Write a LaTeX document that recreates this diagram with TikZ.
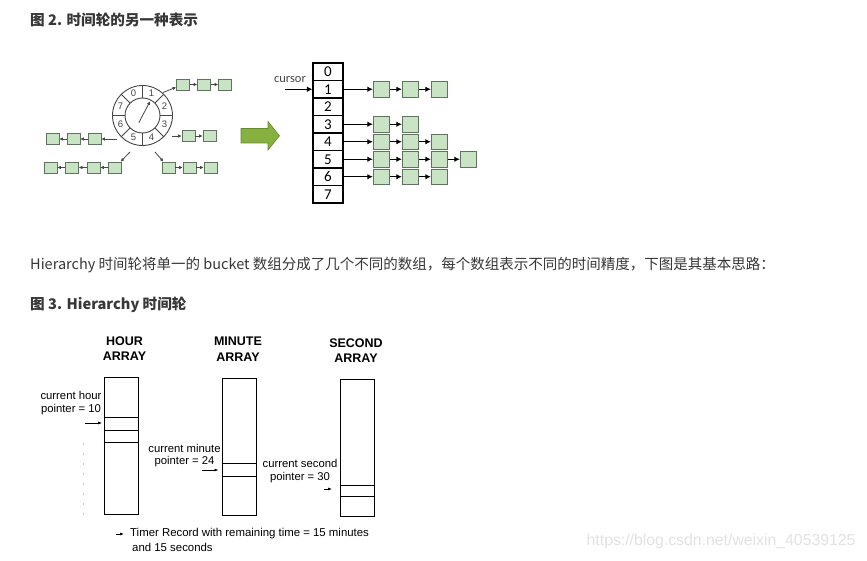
\documentclass[tikz,border=0pt]{standalone}
\usepackage{fontspec}
\setmainfont{Liberation Sans}
\newfontfamily\cjk{Noto Sans CJK SC}
\newfontfamily\carlito{Carlito}
\usetikzlibrary{arrows.meta,positioning,calc}
\definecolor{webgray}    {RGB}{ 55,  55,  55}
\definecolor{wheelgray}  {RGB}{ 70,  70,  70}
\definecolor{boxgreen}   {RGB}{200, 228, 196}
\definecolor{boxedge}    {RGB}{ 95, 115,  95}
\definecolor{arrowgreen} {RGB}{134, 176,  64}
\definecolor{arrowedge}  {RGB}{104, 138,  46}
\definecolor{markgray}   {RGB}{226, 226, 226}

\begin{document}
\begin{tikzpicture}[x=1pt,y=-1pt,
  every node/.style={inner sep=0pt},
  webtxt/.style={anchor=west,text=webgray,font=\cjk\fontsize{14.5}{18}\selectfont},
  webhdr/.style={anchor=west,text=webgray,font=\cjk\bfseries\fontsize{14.6}{18}\selectfont},
  wheel/.style={draw=wheelgray,line width=0.9pt},
  wnum/.style={text=wheelgray,font=\fontsize{9.5}{11}\selectfont},
  wbox/.style={draw=boxedge,fill=boxgreen,line width=0.7pt,
               minimum width=13pt,minimum height=11pt},
  wlink/.style={draw=wheelgray,line width=0.8pt,-{Latex[length=3.5pt,width=3.5pt]}},
  cell/.style={draw=black,line width=1.1pt,minimum width=30pt,minimum height=17.5pt,
               font=\carlito\fontsize{15}{17}\selectfont},
  abox/.style={draw=boxedge,fill=boxgreen,line width=0.8pt,
               minimum width=16.5pt,minimum height=15.5pt},
  alink/.style={draw=black,line width=1.4pt,-{Latex[length=5.5pt,width=5.5pt]}},
  ttl/.style={align=center,font=\bfseries\fontsize{12.5}{15.5}\selectfont},
  tarray/.style={draw=black,line width=0.9pt,minimum width=34pt},
  slot/.style={draw=black,line width=0.6pt},
  plbl/.style={align=center,font=\fontsize{11.3}{12.6}\selectfont},
  ptr/.style={draw=black,line width=0.6pt,-{Latex[length=4pt,width=3pt]}},
]

%% Page and margins
\useasboundingbox (0,0) rectangle (867,561);
\fill[white] (0,0) rectangle (867,561);

%% Web text
\node[webhdr] (fig2) at (30,20) {图 2. 时间轮的另一种表示};
\node[webtxt] (para) at (30,265)
  {Hierarchy 时间轮将单一的 bucket 数组分成了几个不同的数组，每个数组表示不同的时间精度，下图是其基本思路：};
\node[webhdr] (fig3) at (30,305) {图 3. Hierarchy 时间轮};

%% Time wheel
\coordinate (W) at (142.5,115.5);
\draw[wheel] (W) circle[radius=30pt];
\draw[wheel] (W) circle[radius=17.5pt];
\foreach \a in {0,45,...,315}
  \draw[wheel] ($(W)+(\a:17.5pt)$) -- ($(W)+(\a:30pt)$);
\foreach \k in {0,...,7}
  \node[wnum] (n\k) at ($(W)+({112.5-45*\k}:23.8pt)$) {\k};
\coordinate (hand0) at ($(W)+(243:8pt)$);
\coordinate (hand1) at ($(W)+(62:16pt)$);
\draw[wlink] (hand0) -- (hand1);

%% Wheel buckets
\coordinate (w1) at (163,92.5);
\coordinate (w3) at (172,136);
\coordinate (w4) at (155,152);
\coordinate (w5) at (130,152);
\coordinate (w6) at (117,139);

\node[wbox] (l11) at (183,84.5) {};
\node[wbox] (l12) at (204,84.5) {};
\node[wbox] (l13) at (225,84.5) {};
\node[wbox] (l31) at (188.5,136) {};
\node[wbox] (l32) at (209.5,136) {};
\node[wbox] (l41) at (168.5,167.5) {};
\node[wbox] (l42) at (189.5,167.5) {};
\node[wbox] (l43) at (210.5,167.5) {};
\node[wbox] (l51) at (115,167.5) {};
\node[wbox] (l52) at (93.5,167.5) {};
\node[wbox] (l53) at (72,167.5) {};
\node[wbox] (l54) at (50.5,167.5) {};
\node[wbox] (l61) at (94.5,139) {};
\node[wbox] (l62) at (73.5,139) {};
\node[wbox] (l63) at (52.5,139) {};

\draw[wlink] (w1) -- (l11);
\draw[wlink] (l11) -- (l12);
\draw[wlink] (l12) -- (l13);
\draw[wlink] (w3) -- (l31);
\draw[wlink] (l31) -- (l32);
\draw[wlink] (w4) -- (l41);
\draw[wlink] (l41) -- (l42);
\draw[wlink] (l42) -- (l43);
\draw[wlink] (w5) -- (l51);
\draw[wlink] (l51) -- (l52);
\draw[wlink] (l52) -- (l53);
\draw[wlink] (l53) -- (l54);
\draw[wlink] (w6) -- (l61);
\draw[wlink] (l61) -- (l62);
\draw[wlink] (l62) -- (l63);

%% Green block arrow
\filldraw[fill=arrowgreen,draw=arrowedge,line width=0.6pt]
  (241,128.5) -- (268,128.5) -- (268,121.5) -- (279.5,135.8)
  -- (268,150) -- (268,143) -- (241,143) -- cycle;

%% Bucket array
\node[cell] (c0) at (328,71.75) {0};
\node[cell] (c1) at (328,89.25) {1};
\node[cell] (c2) at (328,106.75) {2};
\node[cell] (c3) at (328,124.25) {3};
\node[cell] (c4) at (328,141.75) {4};
\node[cell] (c5) at (328,159.25) {5};
\node[cell] (c6) at (328,176.75) {6};
\node[cell] (c7) at (328,194.25) {7};

\coordinate (cur) at (285,89.25);
\node[text=wheelgray,font=\carlito\fontsize{12.5}{14}\selectfont] (curtxt) at (290,79.5) {cursor};
\draw[alink] (cur) -- (c1);

\node[abox] (a11) at (381.5,89.25) {};
\node[abox] (a12) at (410.5,89.25) {};
\node[abox] (a13) at (439.5,89.25) {};
\node[abox] (a31) at (381.5,124.25) {};
\node[abox] (a32) at (410.5,124.25) {};
\node[abox] (a41) at (381.5,141.75) {};
\node[abox] (a42) at (410.5,141.75) {};
\node[abox] (a43) at (439.5,141.75) {};
\node[abox] (a51) at (381.5,159.25) {};
\node[abox] (a52) at (410.5,159.25) {};
\node[abox] (a53) at (439.5,159.25) {};
\node[abox] (a54) at (468.5,159.25) {};
\node[abox] (a61) at (381.5,176.75) {};
\node[abox] (a62) at (410.5,176.75) {};
\node[abox] (a63) at (439.5,176.75) {};

\draw[alink] (c1) -- (a11);
\draw[alink] (a11) -- (a12);
\draw[alink] (a12) -- (a13);
\draw[alink] (c3) -- (a31);
\draw[alink] (a31) -- (a32);
\draw[alink] (c4) -- (a41);
\draw[alink] (a41) -- (a42);
\draw[alink] (a42) -- (a43);
\draw[alink] (c5) -- (a51);
\draw[alink] (a51) -- (a52);
\draw[alink] (a52) -- (a53);
\draw[alink] (a53) -- (a54);
\draw[alink] (c6) -- (a61);
\draw[alink] (a61) -- (a62);
\draw[alink] (a62) -- (a63);

%% Hierarchy arrays
\node[ttl] (hourT) at (124.5,348.5) {HOUR\\ARRAY};
\node[ttl] (minT)  at (238,349)   {MINUTE\\ARRAY};
\node[ttl] (secT)  at (356,350.5) {SECOND\\ARRAY};

\node[tarray,minimum height=137pt]   (hourA) at (121,445.5) {};
\node[tarray,minimum height=136.7pt] (minA)  at (239.7,446.7) {};
\node[tarray,minimum height=136.7pt] (secA)  at (357.2,447.7) {};

\draw[slot,line width=1pt] (hourA.west |- 0,417) -- (hourA.east |- 0,417);
\draw[slot] (hourA.west |- 0,430) -- (hourA.east |- 0,430);
\draw[slot] (hourA.west |- 0,442) -- (hourA.east |- 0,442);
\draw[slot,line width=0.9pt] (minA.west |- 0,463.3) -- (minA.east |- 0,463.3);
\draw[slot] (minA.west |- 0,476.7) -- (minA.east |- 0,476.7);
\draw[slot] (secA.west |- 0,485) -- (secA.east |- 0,485);
\draw[slot] (secA.west |- 0,496) -- (secA.east |- 0,496);

%% Pointers
\node[plbl] (hourL) at (71,403)    {current hour\\pointer = 10};
\node[plbl] (minL)  at (184.5,455.5) {current minute\\pointer = 24};
\node[plbl] (secL)  at (300,471.3) {current second\\pointer = 30};

\coordinate (hp0) at (85,423);
\coordinate (hp1) at (102,423);
\coordinate (mp0) at (201.5,470);
\coordinate (mp1) at (218.5,470);
\coordinate (sp0) at (324,489);
\coordinate (sp1) at (332,489);
\draw[ptr] (hp0) -- (hp1);
\draw[ptr] (mp0) -- (mp1);
\draw[ptr] (sp0) -- (sp1);

\draw[gray!45,line width=0.6pt,dash pattern=on 2pt off 8pt] (83.5,443) -- (83.5,523);

%% Legend
\coordinate (lg0) at (116,534);
\coordinate (lg1) at (124,534);
\draw[ptr] (lg0) -- (lg1);
\node[plbl,align=left,anchor=north west,font=\fontsize{11.4}{15}\selectfont] (legend) at (130,528)
  {Timer Record with remaining time = 15 minutes\\\hspace{2pt}and 15 seconds};

%% Watermark
\node[anchor=west,text=markgray,font=\fontsize{15.8}{18}\selectfont] (wm) at (586.5,541)
  {https://blog.csdn.net/weixin\_40539125};

\end{tikzpicture}
\end{document}
